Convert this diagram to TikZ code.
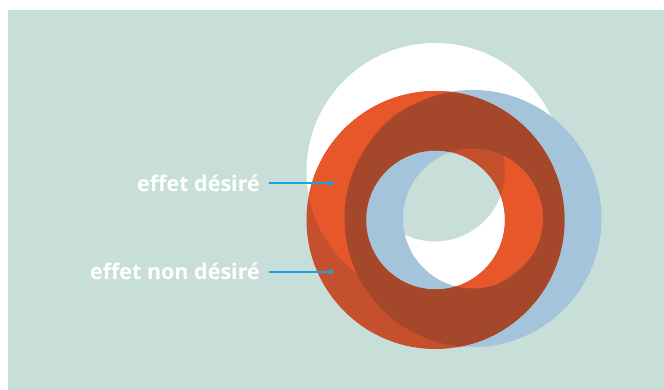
\documentclass[tikz,border=0pt]{standalone}
\usepackage{fontspec}
\setmainfont{Open Sans}
\usetikzlibrary{positioning}
\definecolor{fond}{HTML}{C7DFD8}
\definecolor{bleu}{HTML}{A3C4DA}
\definecolor{orclair}{HTML}{E8572A}
\definecolor{orfonce}{HTML}{C4502D}
\definecolor{brun}{HTML}{A5472A}
\definecolor{trait}{HTML}{1AA3E0}
\begin{document}
\begin{tikzpicture}[x=1pt,y=-1pt,line join=round,line cap=round]
	\tikzset{every node/.style={text=white,font=\fontsize{21.5}{25}\selectfont\bfseries}}
	\tikzset{lien/.style={draw=trait,line width=1.6pt}}
	\useasboundingbox (0,0) rectangle (664,390);
	\fill[fond] (8,10) rectangle (664,390);
	\coordinate (W) at (435,171.5);
	\coordinate (B) at (473,218.5);
	\coordinate (O) at (435.5,220);
	% anneaux
	\fill[white,even odd rule] (W) circle (128.5) (W) circle (70);
	\fill[bleu,even odd rule] (B) circle (128.5) (B) circle (70);
	\begin{scope}[even odd rule]
		\clip (O) circle (129) (O) circle (69.5);
		\fill[orfonce] (O) circle (131);
		\fill[orclair] (W) circle (128.5) (W) circle (70);
		\fill[brun] (B) circle (128.5) (B) circle (70);
	\end{scope}
	% legendes
	\foreach \y/\nom/\txt in {183.3/desire/effet désiré, 271.7/nondesire/effet non désiré}
	{
		\coordinate (p\nom) at (330.7,\y);
		\node[anchor=east,inner xsep=9.3pt,inner ysep=0pt] (\nom) at (269.3,\y) {\txt};
		\draw[lien] (\nom.east) -- (p\nom);
		\fill[trait] (p\nom) circle (2.4);
	}
\end{tikzpicture}
\end{document}
